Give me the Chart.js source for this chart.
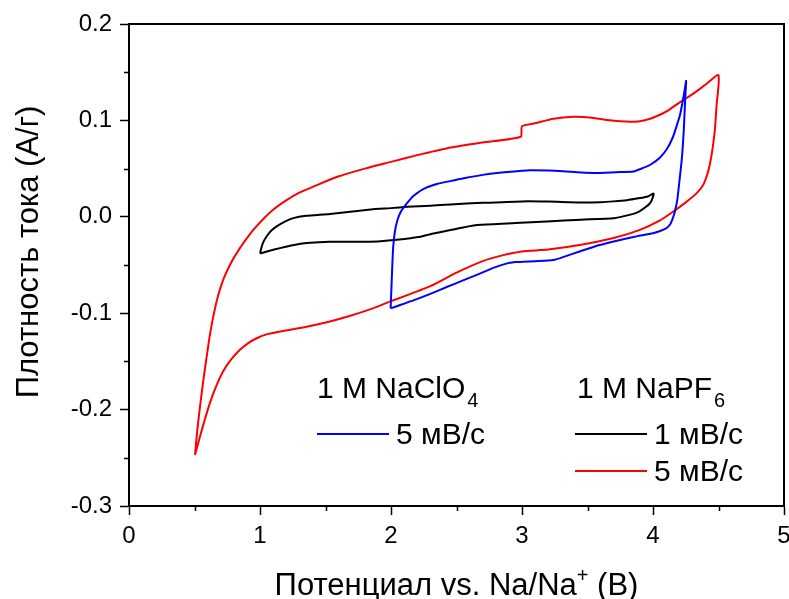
<!DOCTYPE html>
<html>
<head>
<meta charset="utf-8">
<script src="https://cdn.jsdelivr.net/npm/chart.js@4.4.1/dist/chart.umd.min.js"></script>
<style>
  html, body { margin: 0; padding: 0; background: #fff; }
  canvas { display: block; }
</style>
</head>
<body>
<canvas id="c" width="789" height="599"></canvas>
<script>
// ---- Data ----
// 1 M NaPF6, 5 mV/s (red): anodic branch then cathodic branch
const redPotential = [
  0.504, 0.515, 0.528, 0.542, 0.567, 0.593, 0.617, 0.644, 0.68, 0.72, 0.77, 0.822, 0.885, 0.949,
  1.02, 1.10, 1.20, 1.30, 1.42, 1.59, 1.80, 2.00, 2.20, 2.43, 2.70, 2.99, 3.00, 3.10,
  3.24, 3.39, 3.52, 3.65, 3.75, 3.85, 3.93, 4.00, 4.10, 4.207, 4.30, 4.40, 4.50,
  4.485, 4.47, 4.435, 4.39, 4.33, 4.25, 4.15, 4.05, 3.90, 3.70, 3.45, 3.20, 3.00,
  2.85, 2.70, 2.50, 2.30, 2.10, 1.99, 1.85, 1.67, 1.534, 1.356, 1.153, 1.05, 0.975,
  0.91, 0.847, 0.78, 0.72, 0.665, 0.618, 0.575, 0.542, 0.52, 0.504
];
const redCurrent = [
  -0.247, -0.230, -0.213, -0.197, -0.170, -0.145, -0.123, -0.103, -0.082, -0.065, -0.050, -0.0377, -0.025, -0.0135,
  -0.003, 0.0073, 0.017, 0.025, 0.032, 0.0415, 0.050, 0.057, 0.064, 0.0712, 0.077, 0.083, 0.094, 0.097,
  0.1017, 0.1038, 0.103, 0.1004, 0.099, 0.0986, 0.100, 0.1028, 0.109, 0.119, 0.127, 0.137, 0.147,
  0.115, 0.087, 0.055, 0.035, 0.024, 0.015, 0.005, -0.004, -0.0135, -0.022, -0.029, -0.034, -0.036,
  -0.040, -0.046, -0.058, -0.072, -0.0825, -0.088, -0.0955, -0.1035, -0.1086, -0.114, -0.119, -0.122, -0.126,
  -0.131, -0.138, -0.148, -0.160, -0.176, -0.193, -0.212, -0.228, -0.239, -0.247
];

// 1 M NaClO4, 5 mV/s (blue)
const bluePotential = [
  1.997, 2.003, 2.010, 2.017, 2.030, 2.048, 2.070, 2.100, 2.140, 2.175, 2.25, 2.35, 2.45, 2.556,
  2.70, 2.81, 3.00, 3.063, 3.20, 3.318, 3.45, 3.572, 3.68, 3.75, 3.85, 3.93, 3.98, 4.05, 4.105,
  4.15, 4.18, 4.205, 4.22, 4.24, 4.253,
  4.245, 4.235, 4.22, 4.20, 4.186, 4.17, 4.155, 4.13, 4.10, 4.05, 4.00, 3.85, 3.70, 3.55, 3.44,
  3.33, 3.24, 3.10, 3.01, 2.95, 2.886, 2.78, 2.683, 2.55, 2.43, 2.30, 2.176, 2.08, 1.997
];
const blueCurrent = [
  -0.095, -0.075, -0.050, -0.031, -0.015, -0.004, 0.004, 0.0103, 0.017, 0.022, 0.029, 0.034, 0.037, 0.040,
  0.0435, 0.0455, 0.0478, 0.0483, 0.048, 0.0472, 0.046, 0.0455, 0.046, 0.0465, 0.047, 0.051, 0.054, 0.061, 0.070,
  0.082, 0.094, 0.105, 0.115, 0.130, 0.141,
  0.120, 0.090, 0.060, 0.035, 0.018, 0.007, 0.000, -0.008, -0.012, -0.015, -0.017, -0.021, -0.0257, -0.031, -0.036,
  -0.041, -0.0448, -0.046, -0.0465, -0.047, -0.0483, -0.053, -0.0587, -0.066, -0.0726, -0.080, -0.0865, -0.091, -0.095
];

// 1 M NaPF6, 1 mV/s (black)
const blackPotential = [
  1.00, 1.015, 1.03, 1.05, 1.085, 1.127, 1.19, 1.254, 1.35, 1.534, 1.845, 2.00, 2.124, 2.30,
  2.454, 2.70, 3.00, 3.20, 3.445, 3.60, 3.70, 3.80, 3.90, 3.96, 4.004,
  3.99, 3.97, 3.95, 3.90, 3.85, 3.70, 3.45, 3.19, 2.95, 2.683, 2.55, 2.454, 2.30, 2.226, 2.10,
  2.022, 1.90, 1.768, 1.534, 1.356, 1.25, 1.153, 1.08, 1.00
];
const blackCurrent = [
  -0.038, -0.030, -0.025, -0.0204, -0.0145, -0.010, -0.005, -0.0014, 0.001, 0.003, 0.0076, 0.009, 0.0103, 0.0115,
  0.0128, 0.0145, 0.016, 0.0158, 0.0149, 0.0152, 0.016, 0.0172, 0.0194, 0.021, 0.0243,
  0.017, 0.013, 0.0108, 0.006, 0.003, -0.0014, -0.003, -0.0049, -0.0065, -0.0083, -0.011, -0.0138, -0.018, -0.0207, -0.023,
  -0.0241, -0.0255, -0.026, -0.0258, -0.0273, -0.0295, -0.0325, -0.035, -0.038
];

const xTickValues = [0, 1, 2, 3, 4, 5];
const yTickValues = [-0.3, -0.2, -0.1, 0.0, 0.1, 0.2];
const xMinorTicks = [0.5, 1.5, 2.5, 3.5, 4.5];
const yMinorTicks = [-0.25, -0.15, -0.05, 0.05, 0.15];

const xTitle = 'Потенциал vs. Na/Na';
const xTitleSup = '+';
const xTitleEnd = ' (В)';
const yTitle = 'Плотность тока (А/г)';

function pts(xs, ys) { return xs.map((x, i) => ({ x: x, y: ys[i] })); }

const FONT = '"Liberation Sans", Arial, sans-serif';

const decorPlugin = {
  id: 'decor',
  afterDraw(chart) {
    const ctx = chart.ctx;
    const a = chart.chartArea;
    const xs = chart.scales.x, ys = chart.scales.y;
    ctx.save();
    // frame
    ctx.strokeStyle = '#000';
    ctx.lineWidth = 2;
    ctx.strokeRect(a.left, a.top, a.right - a.left, a.bottom - a.top);
    // minor ticks
    ctx.lineWidth = 1.5;
    ctx.beginPath();
    xMinorTicks.forEach(v => {
      const px = Math.round(xs.getPixelForValue(v)) + 0.5;
      ctx.moveTo(px, a.bottom); ctx.lineTo(px, a.bottom + 5);
    });
    yMinorTicks.forEach(v => {
      const py = Math.round(ys.getPixelForValue(v)) + 0.5;
      ctx.moveTo(a.left, py); ctx.lineTo(a.left - 5, py);
    });
    ctx.stroke();

    ctx.fillStyle = '#000';
    // y title
    ctx.save();
    ctx.translate(29, 252);
    ctx.rotate(-Math.PI / 2);
    ctx.font = '31px ' + FONT;
    ctx.textAlign = 'center';
    ctx.textBaseline = 'middle';
    ctx.fillText(yTitle, 0, 0);
    ctx.restore();

    // x title with superscript
    ctx.font = '31px ' + FONT;
    ctx.textBaseline = 'alphabetic';
    ctx.textAlign = 'left';
    const w1 = ctx.measureText(xTitle).width;
    ctx.font = '20px ' + FONT;
    const w2 = ctx.measureText(xTitleSup).width;
    ctx.font = '31px ' + FONT;
    const w3 = ctx.measureText(xTitleEnd).width;
    const cx = (a.left + a.right) / 2;
    let x0 = cx - (w1 + w2 + w3) / 2;
    const base = 595;
    ctx.fillText(xTitle, x0, base);
    ctx.font = '20px ' + FONT;
    ctx.fillText(xTitleSup, x0 + w1, base - 13);
    ctx.font = '31px ' + FONT;
    ctx.fillText(xTitleEnd, x0 + w1 + w2, base);

    // legend
    const ds = chart.data.datasets;
    function subText(main, sub, x, y) {
      ctx.font = '30px ' + FONT;
      ctx.textAlign = 'left';
      ctx.fillStyle = '#000';
      ctx.fillText(main, x, y);
      const w = ctx.measureText(main).width;
      ctx.font = '20px ' + FONT;
      ctx.fillText(sub, x + w + 2, y + 9);
    }
    function item(color, label, x, y) {
      ctx.strokeStyle = color;
      ctx.lineWidth = 2;
      ctx.beginPath();
      ctx.moveTo(x, y); ctx.lineTo(x + 72, y);
      ctx.stroke();
      ctx.font = '30px ' + FONT;
      ctx.fillStyle = '#000';
      ctx.textAlign = 'left';
      ctx.fillText(label, x + 79, y + 10);
    }
    subText('1 M NaClO', '4', 317, 398);
    item(ds[0].borderColor, ds[0].label, 317, 434);
    subText('1 M NaPF', '6', 577, 398);
    item(ds[1].borderColor, ds[1].label, 575, 434);
    item(ds[2].borderColor, ds[2].label, 575, 471);
    ctx.restore();
  }
};

new Chart(document.getElementById('c'), {
  type: 'scatter',
  data: {
    datasets: [
      { label: '5 мВ/с', data: pts(bluePotential, blueCurrent), borderColor: '#0000ff', showLine: true, borderWidth: 2, pointRadius: 0, tension: 0.2, fill: false },
      { label: '1 мВ/с', data: pts(blackPotential, blackCurrent), borderColor: '#000000', showLine: true, borderWidth: 2, pointRadius: 0, tension: 0.2, fill: false },
      { label: '5 мВ/с', data: pts(redPotential, redCurrent), borderColor: '#ff0000', showLine: true, borderWidth: 2, pointRadius: 0, tension: 0.2, fill: false }
    ]
  },
  options: {
    responsive: false,
    animation: false,
    devicePixelRatio: 1,
    layout: { autoPadding: false, padding: { left: 0, right: 5, top: 24, bottom: 0 } },
    plugins: { legend: { display: false }, tooltip: { enabled: false } },
    scales: {
      x: {
        type: 'linear', min: 0, max: 5,
        afterFit(s) { s.height = 93; s.paddingLeft = 0; s.paddingRight = 0; },
        afterBuildTicks(s) { s.ticks = xTickValues.map(v => ({ value: v })); },
        ticks: { color: '#000', font: { family: FONT, size: 24 }, padding: 7, maxRotation: 0,
          callback: v => String(v) },
        grid: { drawOnChartArea: false, drawTicks: true, tickLength: 9, tickWidth: 1.5, tickColor: '#000' },
        border: { display: true, color: '#000', width: 2 }
      },
      y: {
        type: 'linear', min: -0.3, max: 0.2,
        afterFit(s) { s.width = 129; s.paddingTop = 0; s.paddingBottom = 0; },
        afterBuildTicks(s) { s.ticks = yTickValues.map(v => ({ value: v })); },
        ticks: { color: '#000', font: { family: FONT, size: 24 }, padding: 8,
          callback: v => (Math.abs(v) < 1e-9 ? '0.0' : v.toFixed(1)) },
        grid: { drawOnChartArea: false, drawTicks: true, tickLength: 9, tickWidth: 1.5, tickColor: '#000' },
        border: { display: true, color: '#000', width: 2 }
      }
    }
  },
  plugins: [decorPlugin]
});
</script>
</body>
</html>
